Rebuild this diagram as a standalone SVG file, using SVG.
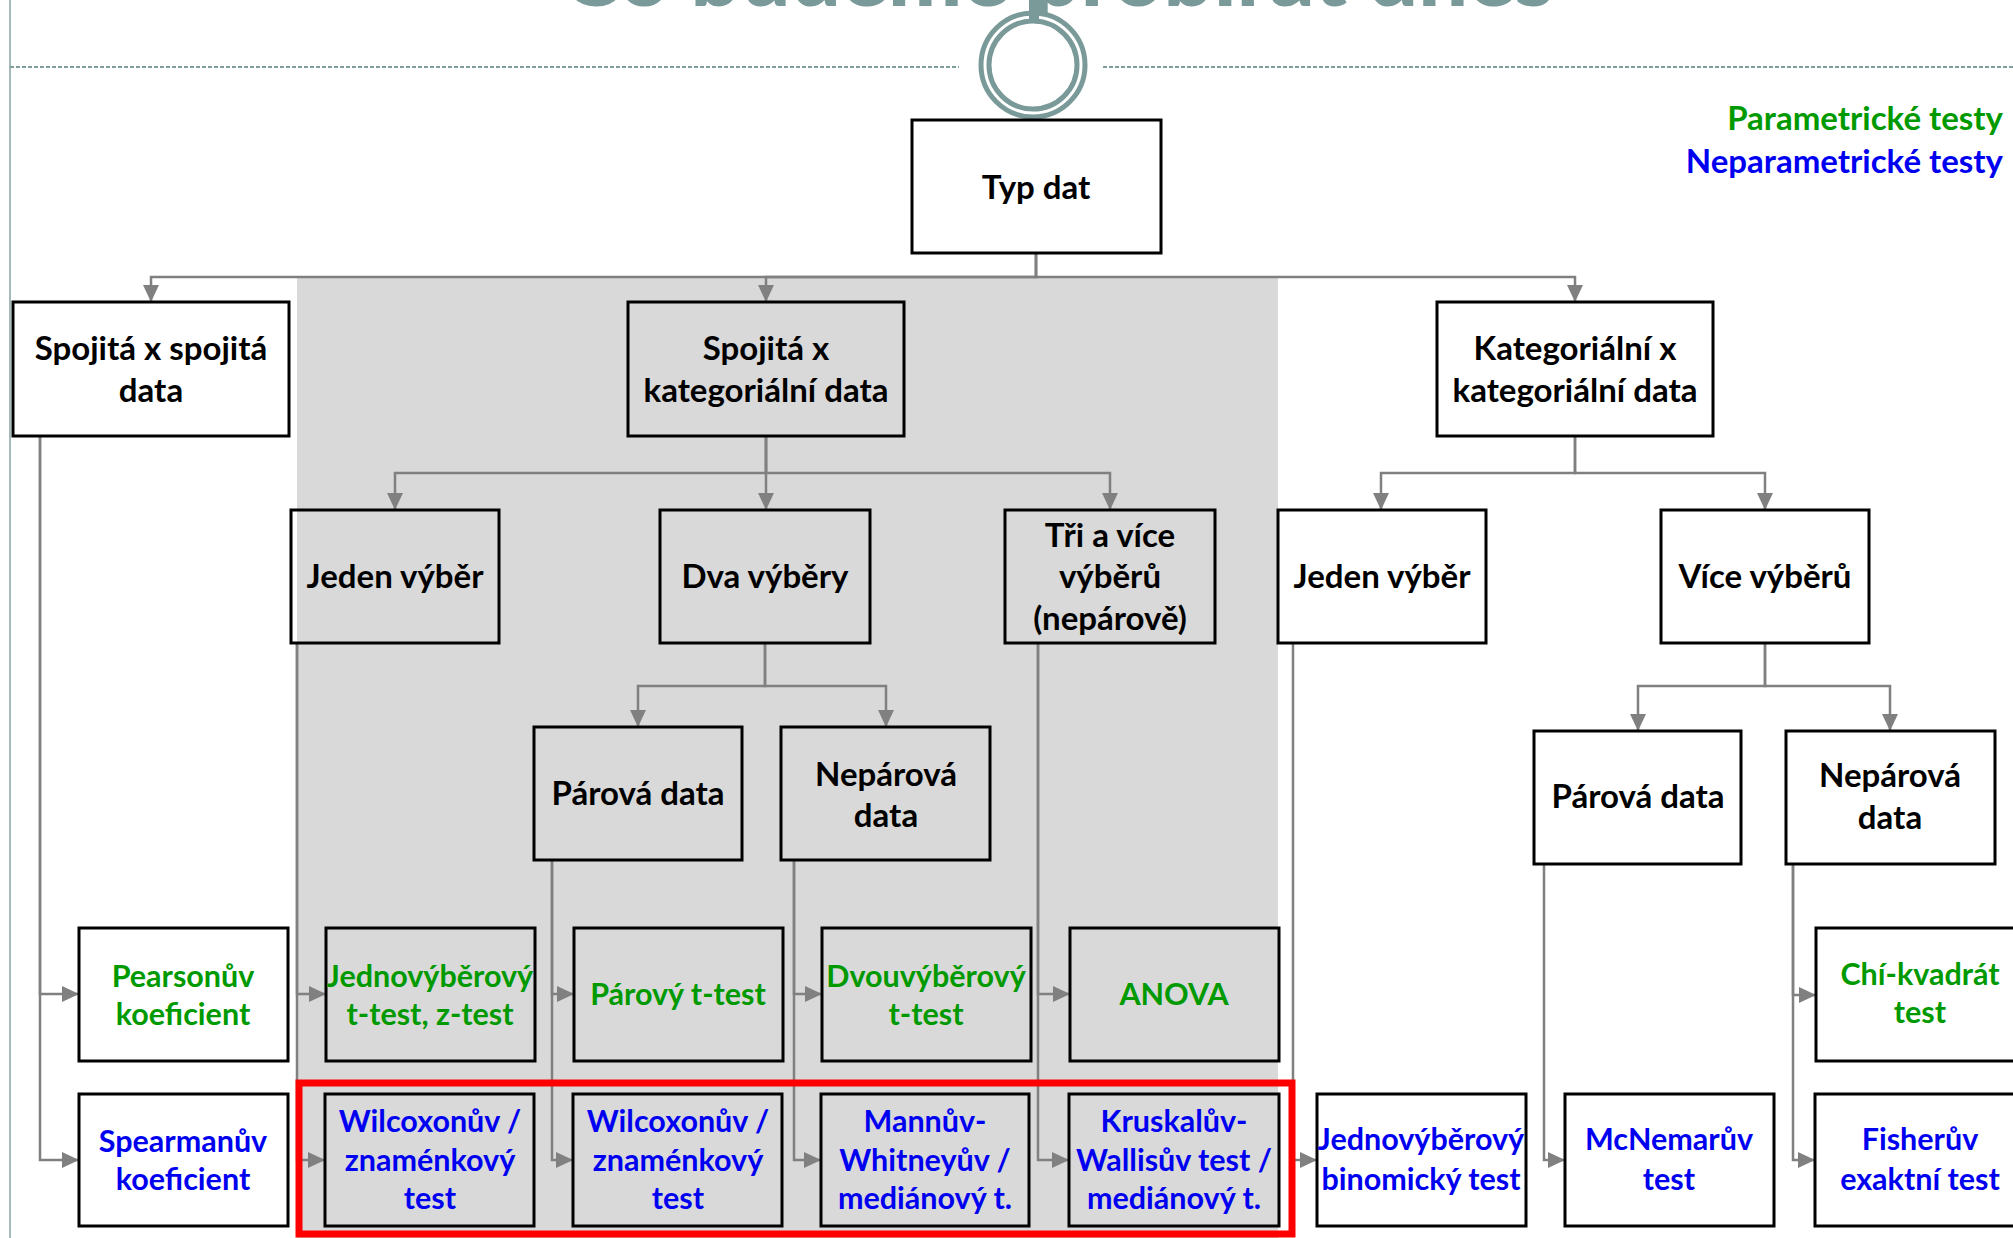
<svg xmlns="http://www.w3.org/2000/svg" width="2013" height="1238" viewBox="0 0 2013 1238">
<style>
.box{stroke:#000;stroke-width:3}
.w{fill:#fff}
.t{fill:none}
.txt{font-family:Lato,"Open Sans","Liberation Sans",sans-serif;font-weight:700;font-size:33px;text-anchor:middle;fill:#000}
.leaf{font-size:30.5px}
.g{fill:#009A00}
.b{fill:#0000F0}
.con path{fill:none;stroke:#808080;stroke-width:2.5;marker-end:url(#arr)}
</style>
<defs>
<marker id="arr" markerUnits="userSpaceOnUse" markerWidth="18" markerHeight="16" refX="17" refY="8" orient="auto" viewBox="0 0 18 16">
<path d="M0,0 L17,8 L0,16 z" fill="#808080"/>
</marker>
</defs>
<rect width="2013" height="1238" fill="#fff"/>
<g id="decor">
<line x1="10" y1="0" x2="10" y2="1238" stroke="#A7BABA" stroke-width="2"/>
<line x1="10" y1="67" x2="959" y2="67" stroke="#7F9F9F" stroke-width="2" stroke-dasharray="4,2"/>
<line x1="1103" y1="67" x2="2013" y2="67" stroke="#7F9F9F" stroke-width="2" stroke-dasharray="4,2"/>
<text x="1058" y="6" font-family="Lato,'Open Sans',sans-serif" font-weight="900" font-size="88" text-anchor="middle" fill="#7A9A9A">Co budeme probírat dnes</text>
<circle cx="1033" cy="65" r="52" fill="#fff" stroke="#7A9A9A" stroke-width="5"/>
<circle cx="1033" cy="65" r="44" fill="none" stroke="#7A9A9A" stroke-width="5"/>
<rect x="1029" y="0" width="10" height="22" fill="#7A9A9A"/>
</g>
<rect id="shade" x="297" y="278" width="981" height="960" fill="#D9D9D9"/>
<g id="legend">
<text class="txt g" x="2003" y="130" style="text-anchor:end">Parametrické testy</text>
<text class="txt b" x="2003" y="173" style="text-anchor:end">Neparametrické testy</text>
</g>
<g class="con" id="connectors">
<path d="M1036,253 V277 H151 V302"/>
<path d="M1036,253 V277 H766 V302"/>
<path d="M1036,253 V277 H1575 V302"/>
<path d="M766,436 V473 H395 V510"/>
<path d="M766,436 V510"/>
<path d="M766,436 V473 H1110 V510"/>
<path d="M1575,436 V473 H1381 V510"/>
<path d="M1575,436 V473 H1765 V510"/>
<path d="M765,643 V686 H638 V727"/>
<path d="M765,643 V686 H886 V727"/>
<path d="M1765,643 V686 H1638 V731"/>
<path d="M1765,643 V686 H1890 V731"/>
<path d="M40,436 V994 H79"/>
<path d="M40,436 V1160 H79"/>
<path d="M297,643 V994 H326"/>
<path d="M297,643 V1160 H325"/>
<path d="M552,860 V994 H574"/>
<path d="M552,860 V1160 H573"/>
<path d="M794,860 V994 H822"/>
<path d="M794,860 V1160 H821"/>
<path d="M1038,643 V994 H1070"/>
<path d="M1038,643 V1160 H1069"/>
<path d="M1293,643 V1160 H1317"/>
<path d="M1544,864 V1160 H1565"/>
<path d="M1793,864 V995 H1816"/>
<path d="M1793,864 V1160 H1815"/>
</g>
<g id="typ-dat"><rect class="box w" x="912" y="120" width="249" height="133"/><text class="txt" x="1036" y="199">Typ dat</text></g>
<g id="spoj-spoj"><rect class="box w" x="13" y="302" width="276" height="134"/><text class="txt" x="151" y="360">Spojitá x spojitá<tspan x="151" y="402">data</tspan></text></g>
<g id="spoj-kat"><rect class="box t" x="628" y="302" width="276" height="134"/><text class="txt" x="766" y="360">Spojitá x<tspan x="766" y="402">kategoriální data</tspan></text></g>
<g id="kat-kat"><rect class="box w" x="1437" y="302" width="276" height="134"/><text class="txt" x="1575" y="360">Kategoriální x<tspan x="1575" y="402">kategoriální data</tspan></text></g>
<g id="sk-jeden"><rect class="box t" x="291" y="510" width="208" height="133"/><text class="txt" x="395" y="588">Jeden výběr</text></g>
<g id="sk-dva"><rect class="box t" x="660" y="510" width="210" height="133"/><text class="txt" x="765" y="588">Dva výběry</text></g>
<g id="sk-tri"><rect class="box t" x="1005" y="510" width="210" height="133"/><text class="txt" x="1110" y="547">Tři a více<tspan x="1110" y="588">výběrů</tspan><tspan x="1110" y="630">(nepárově)</tspan></text></g>
<g id="kk-jeden"><rect class="box w" x="1278" y="510" width="208" height="133"/><text class="txt" x="1382" y="588">Jeden výběr</text></g>
<g id="kk-vice"><rect class="box w" x="1661" y="510" width="208" height="133"/><text class="txt" x="1765" y="588">Více výběrů</text></g>
<g id="sk-parova"><rect class="box t" x="534" y="727" width="208" height="133"/><text class="txt" x="638" y="805">Párová data</text></g>
<g id="sk-neparova"><rect class="box t" x="781" y="727" width="209" height="133"/><text class="txt" x="886" y="786">Nepárová<tspan x="886" y="827">data</tspan></text></g>
<g id="kk-parova"><rect class="box w" x="1534" y="731" width="207" height="133"/><text class="txt" x="1638" y="808">Párová data</text></g>
<g id="kk-neparova"><rect class="box w" x="1786" y="731" width="209" height="133"/><text class="txt" x="1890" y="787">Nepárová<tspan x="1890" y="829">data</tspan></text></g>
<g id="pearson"><rect class="box w" x="79" y="928" width="209" height="133"/><text class="txt leaf g" x="183" y="987">Pearsonův<tspan x="183" y="1025">koeficient</tspan></text></g>
<g id="jednovyb-t"><rect class="box t" x="326" y="928" width="209" height="133"/><text class="txt leaf g" x="430" y="987">Jednovýběrový<tspan x="430" y="1025">t-test, z-test</tspan></text></g>
<g id="parovy-t"><rect class="box t" x="574" y="928" width="209" height="133"/><text class="txt leaf g" x="678" y="1005">Párový t-test</text></g>
<g id="dvouvyb-t"><rect class="box t" x="822" y="928" width="209" height="133"/><text class="txt leaf g" x="926" y="987">Dvouvýběrový<tspan x="926" y="1025">t-test</tspan></text></g>
<g id="anova"><rect class="box t" x="1070" y="928" width="209" height="133"/><text class="txt leaf g" x="1174" y="1005">ANOVA</text></g>
<g id="chi"><rect class="box w" x="1816" y="928" width="209" height="133"/><text class="txt leaf g" x="1920" y="985">Chí-kvadrát<tspan x="1920" y="1023">test</tspan></text></g>
<g id="spearman"><rect class="box w" x="79" y="1094" width="209" height="132"/><text class="txt leaf b" x="183" y="1152">Spearmanův<tspan x="183" y="1190">koeficient</tspan></text></g>
<g id="wilcox1"><rect class="box t" x="325" y="1094" width="209" height="132"/><text class="txt leaf b" x="430" y="1132">Wilcoxonův /<tspan x="430" y="1171">znaménkový</tspan><tspan x="430" y="1209">test</tspan></text></g>
<g id="wilcox2"><rect class="box t" x="573" y="1094" width="209" height="132"/><text class="txt leaf b" x="678" y="1132">Wilcoxonův /<tspan x="678" y="1171">znaménkový</tspan><tspan x="678" y="1209">test</tspan></text></g>
<g id="mann"><rect class="box t" x="821" y="1094" width="208" height="132"/><text class="txt leaf b" x="925" y="1132">Mannův-<tspan x="925" y="1171">Whitneyův /</tspan><tspan x="925" y="1209">mediánový t.</tspan></text></g>
<g id="kruskal"><rect class="box t" x="1069" y="1094" width="210" height="132"/><text class="txt leaf b" x="1174" y="1132">Kruskalův-<tspan x="1174" y="1171">Wallisův test /</tspan><tspan x="1174" y="1209">mediánový t.</tspan></text></g>
<g id="binom"><rect class="box w" x="1317" y="1094" width="209" height="132"/><text class="txt leaf b" x="1421" y="1150">Jednovýběrový<tspan x="1421" y="1190">binomický test</tspan></text></g>
<g id="mcnemar"><rect class="box w" x="1565" y="1094" width="209" height="132"/><text class="txt leaf b" x="1669" y="1150">McNemarův<tspan x="1669" y="1190">test</tspan></text></g>
<g id="fisher"><rect class="box w" x="1815" y="1094" width="209" height="132"/><text class="txt leaf b" x="1920" y="1150">Fisherův<tspan x="1920" y="1190">exaktní test</tspan></text></g>
<rect id="highlight" x="299" y="1083" width="993" height="151" fill="none" stroke="#FF0000" stroke-width="7"/>
</svg>
